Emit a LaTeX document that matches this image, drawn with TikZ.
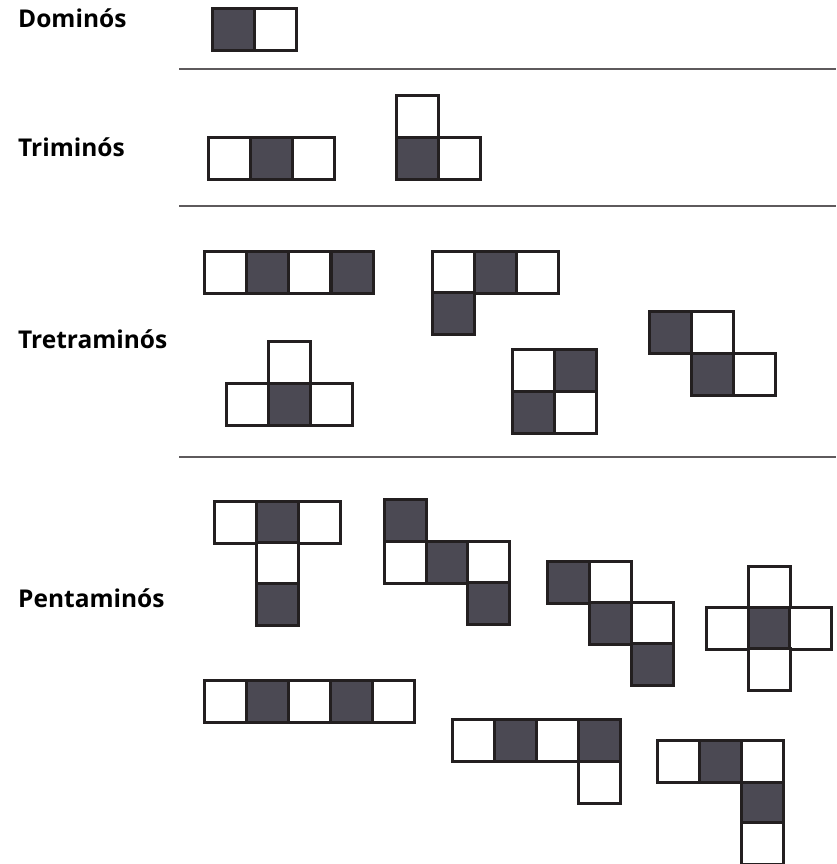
\documentclass[tikz,border=0pt]{standalone}
\usepackage{fontspec}
\setmainfont{Open Sans}
\usepackage{tikz}
\usetikzlibrary{positioning}
\usepackage{xcolor}

\definecolor{cellink}{HTML}{231F20}
\definecolor{cellfill}{HTML}{4B4953}
\definecolor{rulegray}{HTML}{5E5A5C}

\tikzset{
  cell/.style={draw=cellink, line width=3pt, minimum size=42pt, inner sep=0pt, outer sep=0pt},
  W/.style={cell, fill=white},
  D/.style={cell, fill=cellfill},
  title/.style={font=\fontsize{24.5}{28}\selectfont\bfseries, anchor=base west, inner sep=0pt},
  sep/.style={draw=rulegray, line width=2pt}
}

\begin{document}
\begin{tikzpicture}[x=1pt, y=-1pt]
        \useasboundingbox (0,0) rectangle (836,864);

        % titles
        \node [title] (dom) at (18,28) {Dominós};
        \node [title] (tri) at (18,157) {Triminós};
        \node [title] (tet) at (18,348) {Tretraminós};
        \node [title] (pen) at (18,607) {Pentaminós};

        % separators
        \coordinate (s1a) at (179,69);  \coordinate (s1b) at (836,69);
        \coordinate (s2a) at (179,206); \coordinate (s2b) at (836,206);
        \coordinate (s3a) at (179,457); \coordinate (s3b) at (836,457);
        \draw [sep] (s1a) -- (s1b);
        \draw [sep] (s2a) -- (s2b);
        \draw [sep] (s3a) -- (s3b);

        % dominó (x/y = upper left corner of each square)
        \foreach \x/\y/\c [count=\i] in {212/9/D, 254/9/W}
            \node [\c] (do\i) at (\x+21,\y+21) {};

        % triminós
        \foreach \x/\y/\c [count=\i] in {208/137/W, 250/137/D, 292/137/W}
            \node [\c] (ta\i) at (\x+21,\y+21) {};
        \foreach \x/\y/\c [count=\i] in {396/96/W, 396/137/D, 438/137/W}
            \node [\c] (tb\i) at (\x+21,\y+21) {};

        % tetraminós
        \foreach \x/\y/\c [count=\i] in {204/251/W, 246/251/D, 288/251/W, 331/251/D}
            \node [\c] (qa\i) at (\x+21,\y+21) {};
        \foreach \x/\y/\c [count=\i] in {432/251/W, 474/251/D, 516/251/W, 432/292/D}
            \node [\c] (qb\i) at (\x+21,\y+21) {};
        \foreach \x/\y/\c [count=\i] in {268/341/W, 226/383/W, 268/383/D, 310/383/W}
            \node [\c] (qc\i) at (\x+21,\y+21) {};
        \foreach \x/\y/\c [count=\i] in {512/349/W, 554/349/D, 512/391/D, 554/391/W}
            \node [\c] (qd\i) at (\x+21,\y+21) {};
        \foreach \x/\y/\c [count=\i] in {649/311/D, 691/311/W, 691/353/D, 733/353/W}
            \node [\c] (qe\i) at (\x+21,\y+21) {};

        % pentaminós
        \foreach \x/\y/\c [count=\i] in {214/501/W, 256/501/D, 298/501/W, 256/542/W, 256/583/D}
            \node [\c] (pa\i) at (\x+21,\y+21) {};
        \foreach \x/\y/\c [count=\i] in {384/499/D, 384/541/W, 426/541/D, 467/541/W, 467/582/D}
            \node [\c] (pb\i) at (\x+21,\y+21) {};
        \foreach \x/\y/\c [count=\i] in {547/561/D, 589/561/W, 589/602/D, 631/602/W, 631/643/D}
            \node [\c] (pc\i) at (\x+21,\y+21) {};
        \foreach \x/\y/\c [count=\i] in {748/566/W, 706/607/W, 748/607/D, 789/607/W, 748/648/W}
            \node [\c] (pd\i) at (\x+21,\y+21) {};
        \foreach \x/\y/\c [count=\i] in {204/680/W, 246/680/D, 288/680/W, 330/680/D, 372/680/W}
            \node [\c] (pe\i) at (\x+21,\y+21) {};
        \foreach \x/\y/\c [count=\i] in {452/719/W, 494/719/D, 536/719/W, 578/719/D, 578/761/W}
            \node [\c] (pf\i) at (\x+21,\y+21) {};
        \foreach \x/\y/\c [count=\i] in {657/740/W, 699/740/D, 741/740/W, 741/782/D, 741/822/W}
            \node [\c] (pg\i) at (\x+21,\y+21) {};
    \end{tikzpicture}
\end{document}
